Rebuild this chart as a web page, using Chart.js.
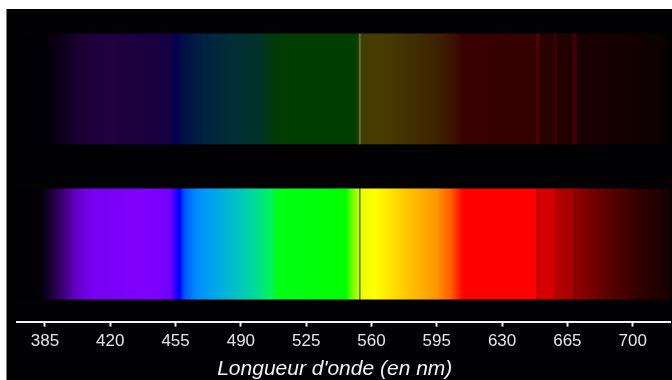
<!DOCTYPE html>
<html>
<head>
<meta charset="utf-8">
<script src="https://cdn.jsdelivr.net/npm/chart.js@4/dist/chart.umd.min.js"></script>
<style>
  html, body { margin: 0; padding: 0; background: #ffffff; width: 672px; height: 380px; overflow: hidden; }
  #edge { position: absolute; left: 6px; top: 9px; width: 1px; height: 371px; background: #777; }
  #box { position: absolute; left: 7px; top: 9px; width: 665px; height: 371px; background: #020204; }
</style>
</head>
<body>
<div id="edge"></div>
<div id="box"><canvas id="c" width="665" height="371"></canvas></div>
<script>
// ---- Data ----
const tickValues = [385, 420, 455, 490, 525, 560, 595, 630, 665, 700];
const axisTitle = "Longueur d'onde (en nm)";
const xMin = 370, xMax = 720;

// Bright (continuous / absorption) spectrum: wavelength stops (nm) and observed RGB
const brightNm = [370, 383, 392, 402, 410, 440, 452, 455, 457, 460, 466, 476, 488, 500, 506, 510,
  546, 550, 553.2, 553.5, 554.0, 554.3, 562, 568, 580, 595, 603, 608, 610, 648, 648.6, 649.6, 650.2,
  658, 658.3, 658.8, 659.1, 668, 668.5, 669.5, 670, 680, 703, 712, 720];
const brightRGB = [[0,0,0],[3,0,8],[45,0,90],[100,0,200],[120,0,240],[128,0,255],[115,0,255],[40,0,255],
  [0,0,255],[0,90,255],[0,140,255],[0,165,235],[0,195,195],[0,225,140],[0,245,90],[0,255,20],
  [0,255,0],[120,255,0],[190,255,0],[105,125,40],[105,125,40],[235,255,0],[255,255,0],[255,235,0],
  [255,195,0],[255,150,0],[255,90,0],[255,15,0],[255,0,0],[255,0,0],[195,0,0],[195,0,0],[215,0,0],
  [210,0,0],[170,0,0],[170,0,0],[180,0,0],[165,0,0],[135,0,0],[135,0,0],[145,0,0],[110,0,0],
  [50,0,0],[35,0,0],[22,0,0]];

// Dim (emission) spectrum: wavelength stops (nm) and observed RGB
const dimNm = [370, 385, 395, 405, 420, 450, 455, 459, 470, 485, 500, 508, 515, 551, 553, 553.4,
  554.0, 554.4, 565, 580, 595, 605, 610, 648, 648.6, 649.6, 650.2, 657.5, 658, 659, 659.6, 667,
  668, 669.5, 670.5, 700, 718, 720];
const dimRGB = [[0,0,0],[2,0,6],[15,0,30],[28,0,55],[33,0,63],[22,0,65],[5,0,75],[0,15,70],[0,35,65],
  [0,45,55],[0,50,40],[0,58,10],[0,62,0],[0,62,0],[30,62,0],[95,115,55],[95,115,55],[65,62,0],
  [72,60,0],[65,48,0],[62,35,0],[60,15,0],[56,0,0],[55,0,0],[80,0,8],[80,0,8],[40,0,0],[40,0,0],
  [62,0,4],[62,0,4],[35,0,0],[33,0,0],[65,0,6],[65,0,6],[28,0,0],[18,0,0],[10,0,0],[4,0,0]];

// Vertical extents of the two bands (in hidden y units)
const dimBand = [8, 13];
const brightBand = [1, 6];

// ---- Chart ----
function spectrumFill(nm, rgb) {
  return function (context) {
    const chart = context.chart;
    const area = chart.chartArea;
    const xs = chart.scales.x;
    if (!area || !xs) return 'rgba(0,0,0,0)';
    const g = chart.ctx.createLinearGradient(area.left, 0, area.right, 0);
    const w = area.right - area.left;
    nm.forEach((v, i) => {
      let off = (xs.getPixelForValue(v) - area.left) / w;
      off = Math.max(0, Math.min(1, off));
      const c = rgb[i];
      g.addColorStop(off, `rgb(${c[0]},${c[1]},${c[2]})`);
    });
    return g;
  };
}

function band(range, nm, rgb) {
  return {
    data: [{ x: xMin, y: range[1] }, { x: xMax, y: range[1] }],
    fill: { target: { value: range[0] } },
    backgroundColor: spectrumFill(nm, rgb),
    borderWidth: 0,
    borderColor: 'rgba(0,0,0,0)',
    pointRadius: 0,
    tension: 0
  };
}

new Chart(document.getElementById('c'), {
  type: 'line',
  data: {
    datasets: [
      band(dimBand, dimNm, dimRGB),
      band(brightBand, brightNm, brightRGB)
    ]
  },
  options: {
    responsive: false,
    animation: false,
    devicePixelRatio: 1,
    layout: { padding: { left: 10, right: 2, top: 0, bottom: 0 } },
    plugins: { legend: { display: false }, tooltip: { enabled: false } },
    scales: {
      x: {
        type: 'linear',
        min: xMin,
        max: xMax,
        afterBuildTicks: (scale) => { scale.ticks = tickValues.map(v => ({ value: v })); },
        grid: { display: true, drawOnChartArea: false, drawTicks: true, tickLength: 5, tickWidth: 2, tickColor: '#f2f2f2' },
        border: { display: true, color: '#f2f2f2', width: 2 },
        ticks: {
          color: '#e6e6e6',
          padding: 5,
          maxRotation: 0,
          autoSkip: false,
          font: { family: "'Liberation Sans', Arial, sans-serif", size: 17 }
        },
        title: {
          display: true,
          text: axisTitle + '   ',
          color: '#f4f4f4',
          padding: { top: 2, bottom: 0 },
          font: { family: "'Liberation Sans', Arial, sans-serif", size: 21, style: 'italic', lineHeight: 1.0 }
        }
      },
      y: { display: false, min: 0, max: 14.1 }
    }
  }
});
</script>
</body>
</html>
